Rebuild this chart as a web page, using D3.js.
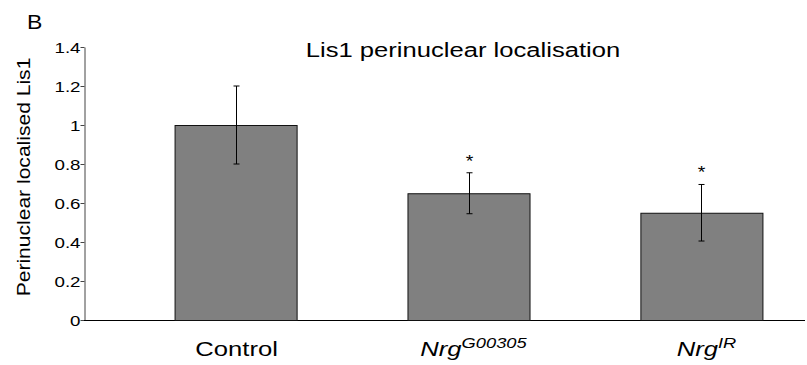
<!DOCTYPE html>
<html>
<head>
<meta charset="utf-8">
<script src="https://cdn.jsdelivr.net/npm/d3@7"></script>
<style>
  body { margin: 0; background: #fff; }
  text { font-family: "Liberation Sans", Arial, sans-serif; fill: #000; }
</style>
</head>
<body>
<svg id="chart" width="807" height="365"></svg>
<script>
// data
const groups = ['Control', 'G00305', 'IR'];
const means = [1.0, 0.65, 0.55];
const sems = [0.2, 0.105, 0.145];
const signif = [false, true, true];
const yTicks = [0, 0.2, 0.4, 0.6, 0.8, 1, 1.2, 1.4];
const yTickLabels = ['0', '0.2', '0.4', '0.6', '0.8', '1', '1.2', '1.4'];

const svg = d3.select('#chart');
const sx = 1.22; // glyphs in the picture are wider than Arial

const y = d3.scaleLinear().domain([0, 1.4]).range([320, 47]);
const x = d3.scaleBand()
  .domain(groups)
  .range([80, 857])
  .paddingInner(0.476)
  .paddingOuter(0.406);

// axes
const yAxis = svg.append('g')
  .attr('transform', 'translate(84.5,0)')
  .call(d3.axisLeft(y)
    .tickValues(yTicks)
    .tickFormat((d, i) => yTickLabels[i])
    .tickSize(4)
    .tickSizeOuter(0));
yAxis.select('.domain').attr('stroke', '#444');
yAxis.selectAll('.tick line').attr('stroke', '#444');
yAxis.selectAll('.tick text')
  .attr('font-size', 15)
  .attr('font-family', '"Liberation Sans", Arial, sans-serif')
  .attr('x', -4 / 1.25)
  .attr('dy', '0.36em')
  .attr('transform', 'scale(1.25,1)');

svg.append('line')
  .attr('x1', 84).attr('x2', 805)
  .attr('y1', y(0) + 0.5).attr('y2', y(0) + 0.5)
  .attr('stroke', '#000');

// bars
svg.append('g').selectAll('rect')
  .data(groups)
  .join('rect')
  .attr('x', d => x(d) + 0.5)
  .attr('y', (d, i) => y(means[i]) + 0.5)
  .attr('width', x.bandwidth())
  .attr('height', (d, i) => y(0) - y(means[i]))
  .attr('fill', '#808080')
  .attr('stroke', '#111');

// error bars
const eb = svg.append('g').attr('stroke', '#000').attr('stroke-width', 1);
groups.forEach((g, i) => {
  const cx = Math.round(x(g) + x.bandwidth() / 2) + 0.5;
  const top = y(means[i] + sems[i]);
  const bot = y(means[i] - sems[i]);
  eb.append('line').attr('x1', cx).attr('x2', cx).attr('y1', top).attr('y2', bot);
  eb.append('line').attr('x1', cx - 3).attr('x2', cx + 3).attr('y1', top).attr('y2', top);
  eb.append('line').attr('x1', cx - 3).attr('x2', cx + 3).attr('y1', bot).attr('y2', bot);
  if (signif[i]) {
    svg.append('text')
      .attr('transform', `translate(${cx},${top - 6}) scale(${sx},1)`)
      .attr('text-anchor', 'middle')
      .style('font-size', '16px')
      .text('*');
  }
});

// category labels
const lab = svg.append('g');
groups.forEach((g, i) => {
  const cx = x(g) + x.bandwidth() / 2 + (i === 0 ? 1 : 5);
  const t = lab.append('text')
    .attr('transform', `translate(${cx},356) scale(${sx},1)`)
    .attr('text-anchor', 'middle')
    .style('font-size', '21px');
  if (i === 0) {
    t.text(g);
  } else {
    t.append('tspan').attr('font-style', 'italic').text('Nrg');
    t.append('tspan').attr('font-style', 'italic').style('font-size', '15px')
      .attr('dy', -8).text(g);
  }
});

// titles
svg.append('text')
  .attr('transform', `translate(463,57) scale(${sx},1)`)
  .attr('text-anchor', 'middle')
  .style('font-size', '21px')
  .text('Lis1 perinuclear localisation');

svg.append('text')
  .attr('transform', 'translate(27,28.5) scale(1.15,1)')
  .style('font-size', '20px')
  .text('B');

svg.append('text')
  .attr('transform', `translate(30,177) rotate(-90) scale(1.17,1)`)
  .attr('text-anchor', 'middle')
  .style('font-size', '18px')
  .text('Perinuclear localised Lis1');
</script>
</body>
</html>
